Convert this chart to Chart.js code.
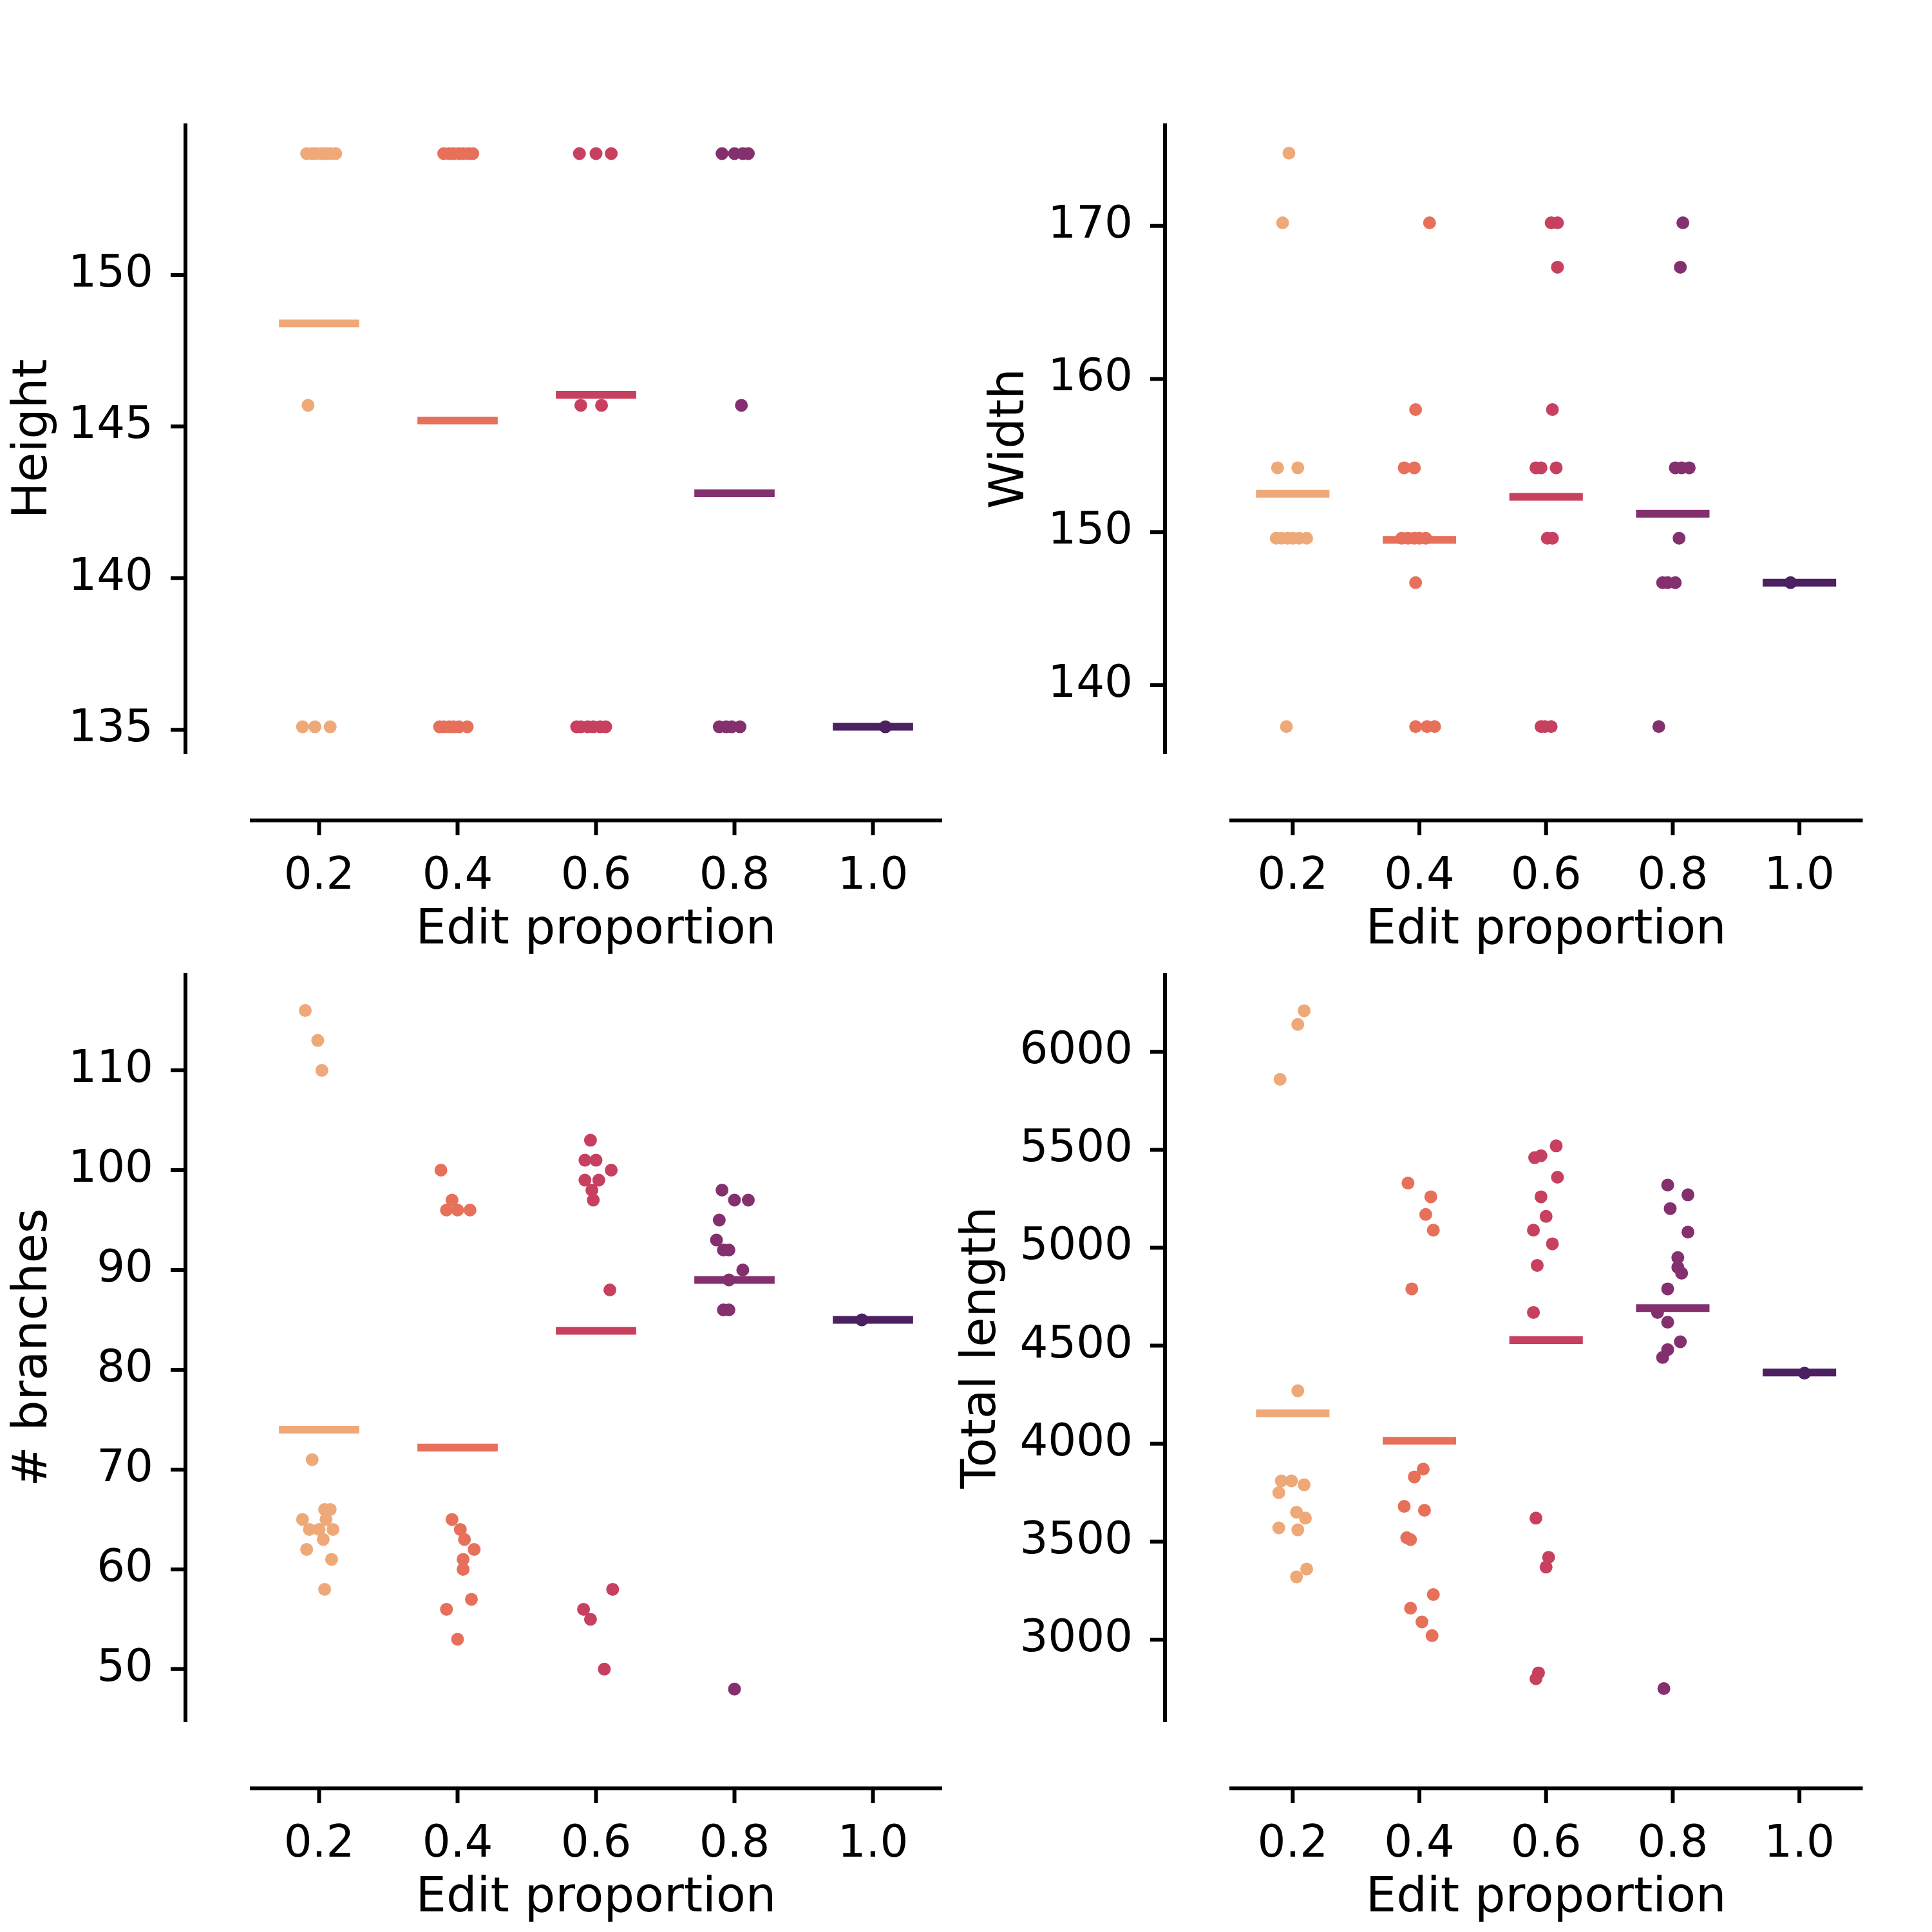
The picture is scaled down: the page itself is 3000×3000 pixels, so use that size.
<!DOCTYPE html>
<html>
<head>
<meta charset="utf-8">
<script src="https://cdn.jsdelivr.net/npm/chart.js@4.4.1/dist/chart.umd.min.js"></script>
<style>
  body { margin: 0; background: #fff; }
  #wrap { position: relative; width: 3000px; height: 3000px; }
  canvas { position: absolute; left: 0; top: 0; }
</style>
</head>
<body>
<div id="wrap"></div>
<script>
const categories = ['0.2', '0.4', '0.6', '0.8', '1.0'];
const colors = ['#efa978', '#e7705a', '#c7405f', '#84306e', '#4b2161'];

// Height
const heightVals = [
  [154, 154, 154, 154, 154, 154, 154, 145.7, 135.1, 135.1, 135.1],
  [154, 154, 154, 154, 154, 154, 154, 135.1, 135.1, 135.1, 135.1, 135.1, 135.1],
  [154, 154, 154, 145.7, 145.7, 135.1, 135.1, 135.1, 135.1, 135.1, 135.1],
  [154, 154, 154, 154, 145.7, 135.1, 135.1, 135.1, 135.1],
  [135.1]
];
const heightJit = [
  [-0.09, -0.05, -0.02, 0.02, 0.05, 0.08, 0.12, -0.08, -0.12, -0.03, 0.08],
  [-0.10, -0.06, -0.03, 0.01, 0.04, 0.08, 0.11, -0.13, -0.10, -0.06, -0.03, 0.01, 0.07],
  [-0.12, 0, 0.11, -0.11, 0.04, -0.14, -0.11, -0.06, -0.02, 0.03, 0.07],
  [-0.09, 0, 0.06, 0.10, 0.05, -0.11, -0.06, -0.02, 0.04],
  [0.09]
];
const heightMeans = [148.4, 145.2, 146.05, 142.8, 135.1];
const heightTicks = [135, 140, 145, 150];

// Width
const widthVals = [
  [174.75, 170.2, 154.2, 154.2, 149.6, 149.6, 149.6, 149.6, 149.6, 149.6, 137.3],
  [170.2, 158, 154.2, 154.2, 149.6, 149.6, 149.6, 149.6, 149.6, 146.7, 137.3, 137.3, 137.3],
  [170.2, 170.2, 167.3, 158, 154.2, 154.2, 154.2, 149.6, 149.6, 137.3, 137.3, 137.3],
  [170.2, 167.3, 154.2, 154.2, 154.2, 149.6, 146.7, 146.7, 146.7, 137.3],
  [146.7]
];
const widthJit = [
  [-0.03, -0.08, -0.12, 0.04, -0.13, -0.09, -0.04, 0, 0.05, 0.11, -0.05],
  [0.08, -0.03, -0.12, -0.04, -0.14, -0.09, -0.04, 0, 0.05, -0.03, -0.03, 0.06, 0.12],
  [0.04, 0.09, 0.09, 0.05, -0.08, -0.04, 0.08, 0.01, 0.05, -0.04, -0.01, 0.04],
  [0.08, 0.06, 0.02, 0.07, 0.13, 0.05, -0.08, -0.04, 0.02, -0.11],
  [-0.07]
];
const widthMeans = [152.5, 149.5, 152.3, 151.2, 146.7];
const widthTicks = [140, 150, 160, 170];

// # branches
const branchVals = [
  [116, 113, 110, 71, 66, 66, 65, 65, 64, 64, 64, 63, 62, 61, 58],
  [100, 97, 96, 96, 96, 65, 64, 63, 62, 61, 60, 57, 56, 53],
  [103, 101, 101, 100, 99, 99, 98, 97, 88, 58, 56, 55, 50],
  [98, 97, 97, 95, 93, 92, 92, 90, 89, 86, 86, 48],
  [85]
];
const branchJit = [
  [-0.10, -0.01, 0.02, -0.05, 0.08, 0.04, -0.12, 0.05, -0.07, 0, 0.10, 0.03, -0.09, 0.09, 0.04],
  [-0.12, -0.04, -0.08, 0, 0.09, -0.04, 0.02, 0.05, 0.12, 0.04, 0.04, 0.10, -0.08, 0],
  [-0.04, -0.08, 0, 0.11, -0.08, 0.02, -0.03, -0.02, 0.10, 0.12, -0.09, -0.04, 0.06],
  [-0.09, 0, 0.10, -0.11, -0.13, -0.08, -0.04, 0.06, -0.04, -0.08, -0.04, 0],
  [-0.08]
];
const branchMeans = [74, 72.2, 83.9, 89, 85];
const branchTicks = [50, 60, 70, 80, 90, 100, 110];

// Total length
const lengthVals = [
  [6210, 6140, 5860, 4270, 3810, 3810, 3790, 3750, 3650, 3620, 3570, 3560, 3360, 3320],
  [5330, 5260, 5170, 5090, 4790, 3870, 3830, 3680, 3660, 3520, 3510, 3230, 3160, 3090, 3020],
  [5520, 5470, 5460, 5360, 5260, 5160, 5090, 5020, 4910, 4670, 3620, 3420, 3370, 2830, 2800],
  [5320, 5270, 5200, 5080, 4950, 4900, 4870, 4790, 4670, 4620, 4520, 4480, 4440, 2750],
  [4360]
];
const lengthJit = [
  [0.09, 0.04, -0.10, 0.04, -0.09, -0.01, 0.09, -0.11, 0.03, 0.10, -0.11, 0.04, 0.11, 0.03],
  [-0.09, 0.09, 0.05, 0.11, -0.06, 0.03, -0.04, -0.12, 0.04, -0.10, -0.07, 0.11, -0.07, 0.02, 0.10],
  [0.08, -0.04, -0.09, 0.09, -0.04, 0, -0.10, 0.05, -0.07, -0.10, -0.08, 0.02, 0, -0.06, -0.08],
  [-0.04, 0.12, -0.02, 0.12, 0.04, 0.04, 0.07, -0.04, -0.12, -0.04, 0.06, -0.04, -0.08, -0.07],
  [0.04]
];
const lengthMeans = [4155, 4015, 4528, 4692, 4363];
const lengthTicks = [3000, 3500, 4000, 4500, 5000, 5500, 6000];

const tickFont = { family: 'DejaVu Sans', size: 69 };
const titleFont = { family: 'DejaVu Sans', size: 75 };

const spines = {
  id: 'spines',
  afterDraw(chart, args, opts) {
    const { ctx, chartArea: a } = chart;
    const ys = chart.scales.y, xs = chart.scales.x;
    ctx.save();
    ctx.strokeStyle = '#000';
    ctx.lineWidth = 6;
    ctx.beginPath();
    ctx.moveTo(opts.spineX, a.top);
    ctx.lineTo(opts.spineX, a.bottom);
    ys.ticks.forEach(t => {
      const p = ys.getPixelForValue(t.value);
      ctx.moveTo(opts.spineX - 23, p);
      ctx.lineTo(opts.spineX, p);
    });
    ctx.moveTo(a.left, opts.spineY);
    ctx.lineTo(a.right, opts.spineY);
    xs.ticks.forEach(t => {
      const p = xs.getPixelForValue(t.value);
      ctx.moveTo(p, opts.spineY);
      ctx.lineTo(p, opts.spineY + 23);
    });
    ctx.stroke();
    ctx.restore();
  }
};

function makePanel(p) {
  const canvas = document.createElement('canvas');
  canvas.width = 3000;
  canvas.height = 3000;
  document.getElementById('wrap').appendChild(canvas);

  const points = [];
  const means = [];
  p.vals.forEach((list, c) => {
    points.push({
      type: 'scatter',
      data: list.map((v, i) => ({ x: c + p.jit[c][i], y: v })),
      backgroundColor: colors[c],
      borderWidth: 0,
      pointRadius: 10
    });
    means.push({
      type: 'line',
      data: [{ x: c - 0.29, y: p.means[c] }, { x: c + 0.29, y: p.means[c] }],
      borderColor: colors[c],
      borderWidth: 12,
      pointRadius: 0,
      showLine: true
    });
  });

  const xH = 320;
  const chart = new Chart(canvas, {
    type: 'scatter',
    data: { datasets: points.concat(means) },
    options: {
      responsive: false,
      animation: false,
      devicePixelRatio: 1,
      layout: {
        padding: {
          left: p.left - p.yW,
          right: 3000 - p.right,
          top: p.top,
          bottom: 3000 - p.bottom - xH
        }
      },
      plugins: {
        legend: { display: false },
        tooltip: { enabled: false },
        spines: { spineX: p.left - 100, spineY: p.bottom + 103 }
      },
      scales: {
        x: {
          type: 'linear',
          min: -0.5,
          max: 4.5,
          afterFit: s => { s.height = xH; },
          afterBuildTicks: s => { s.ticks = categories.map((c, i) => ({ value: i })); },
          ticks: { callback: v => categories[v], font: tickFont, color: '#000', padding: 150, maxRotation: 0 },
          grid: { display: false, drawTicks: false },
          border: { display: false },
          title: { display: true, text: 'Edit proportion', font: titleFont, color: '#000', padding: 0 }
        },
        y: {
          min: p.min,
          max: p.max,
          afterFit: s => { s.width = p.yW; },
          afterBuildTicks: s => { s.ticks = p.ticks.map(v => ({ value: v })); },
          ticks: { callback: v => String(v), font: tickFont, color: '#000', padding: 150 },
          grid: { display: false, drawTicks: false },
          border: { display: false },
          title: { display: true, text: p.title, font: titleFont, color: '#000', padding: 0 }
        }
      }
    },
    plugins: [spines]
  });

  // nudge padding until the plot area sits where it should
  for (let k = 0; k < 3; k++) {
    const a = chart.chartArea;
    const pad = chart.options.layout.padding;
    pad.left += p.left - a.left;
    pad.right += a.right - p.right;
    pad.top += p.top - a.top;
    pad.bottom += a.bottom - p.bottom;
    chart.update();
  }
}

makePanel({ vals: heightVals, jit: heightJit, means: heightMeans, ticks: heightTicks, title: 'Height',
  min: 134.2, max: 155, left: 388, right: 1463, top: 10, bottom: 1171, yW: 380 });
makePanel({ vals: widthVals, jit: widthJit, means: widthMeans, ticks: widthTicks, title: 'Width',
  min: 135.5, max: 176.7, left: 1909, right: 2984, top: 10, bottom: 1171, yW: 384 });
makePanel({ vals: branchVals, jit: branchJit, means: branchMeans, ticks: branchTicks, title: '# branches',
  min: 44.7, max: 119.75, left: 388, right: 1463, top: 1511, bottom: 2674, yW: 380 });
makePanel({ vals: lengthVals, jit: lengthJit, means: lengthMeans, ticks: lengthTicks, title: 'Total length',
  min: 2579, max: 6402, left: 1909, right: 2984, top: 1511, bottom: 2674, yW: 428 });
</script>
</body>
</html>
